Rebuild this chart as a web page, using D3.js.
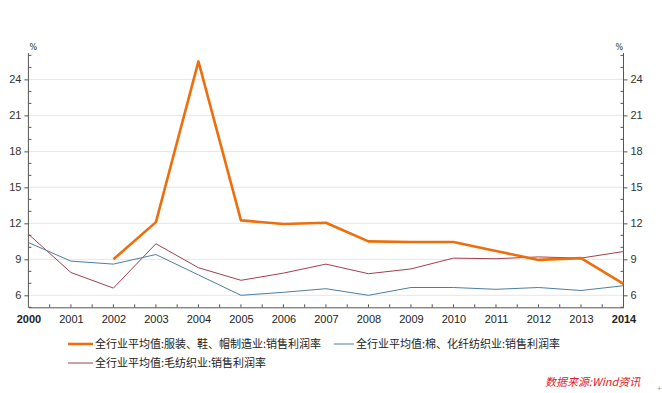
<!DOCTYPE html>
<html>
<head>
<meta charset="utf-8">
<script src="https://cdn.jsdelivr.net/npm/d3@7"></script>
<style>
  body { margin: 0; background: #fff; }
  svg { display: block; font-family: "Noto Sans CJK SC", "DejaVu Sans", sans-serif; }
</style>
</head>
<body>
<div id="chart"></div>
<script>
// years on the x axis
const years = d3.range(2000, 2015);

// 全行业平均值:服装、鞋、帽制造业:销售利润率 (starts 2002)
const apparel = [null, null, 9.0, 12.1, 25.5, 12.25, 11.95, 12.05, 10.5, 10.45, 10.45, 9.7, 8.95, 9.1, 6.95];
// 全行业平均值:棉、化纤纺织业:销售利润率
const cotton = [10.4, 8.85, 8.6, 9.4, 7.7, 6.0, 6.25, 6.55, 6.0, 6.65, 6.65, 6.5, 6.65, 6.4, 6.8];
// 全行业平均值:毛纺织业:销售利润率
const wool = [11.1, 7.9, 6.6, 10.3, 8.3, 7.25, 7.85, 8.6, 7.8, 8.2, 9.1, 9.05, 9.2, 9.1, 9.65];

const seriesNames = [
  "全行业平均值:服装、鞋、帽制造业:销售利润率",
  "全行业平均值:棉、化纤纺织业:销售利润率",
  "全行业平均值:毛纺织业:销售利润率"
];
const yTicks = [6, 9, 12, 15, 18, 21, 24];

const width = 662, height = 393;
const plotLeft = 28.4, plotRight = 623.5, plotTop = 53, plotBottom = 307.3;

const svg = d3.select("#chart").append("svg")
  .attr("width", width)
  .attr("height", height);

const x = d3.scaleLinear().domain([2000, 2014]).range([plotLeft, plotRight]);
const y = d3.scaleLinear().domain([5, 26.2]).range([plotBottom, plotTop]);

// grid
svg.append("g").selectAll("line")
  .data(yTicks)
  .enter().append("line")
  .attr("x1", plotLeft).attr("x2", plotRight)
  .attr("y1", d => y(d)).attr("y2", d => y(d))
  .style("stroke", "#e6e6e6")
  .style("stroke-width", 1);

const axisColor = "#555";
const minorY = d3.range(5, 27).filter(d => !yTicks.includes(d));

// left axis
const yLeft = svg.append("g").attr("transform", `translate(${plotLeft},0)`)
  .call(d3.axisLeft(y).tickValues(yTicks).tickSize(4).tickPadding(3).tickFormat(d3.format("d")));
yLeft.append("g").selectAll("line")
  .data(minorY)
  .enter().append("line")
  .attr("x1", 0).attr("x2", 3)
  .attr("y1", d => y(d)).attr("y2", d => y(d));

// right axis
const yRight = svg.append("g").attr("transform", `translate(${plotRight},0)`)
  .call(d3.axisRight(y).tickValues(yTicks).tickSize(4).tickPadding(3).tickFormat(d3.format("d")));
yRight.append("g").selectAll("line")
  .data(minorY)
  .enter().append("line")
  .attr("x1", 0).attr("x2", -3)
  .attr("y1", d => y(d)).attr("y2", d => y(d));

[yLeft, yRight].forEach(g => {
  g.select(".domain").attr("d", `M0,${y(26.2)}V${plotBottom}`).style("stroke", axisColor);
  g.selectAll("line").style("stroke", axisColor);
  g.selectAll("text").style("font-size", "11px").style("fill", "#333")
    .style("font-family", "'Liberation Sans', 'DejaVu Sans', sans-serif");
});

// x axis
const xAxis = svg.append("g").attr("transform", `translate(0,${plotBottom})`)
  .call(d3.axisBottom(x).tickValues(years).tickSize(0).tickPadding(8).tickFormat(d3.format("d")));
xAxis.select(".domain").style("stroke", axisColor);
xAxis.selectAll("text")
  .style("font-size", "11px")
  .style("fill", "#222")
  .style("font-family", "'Liberation Sans', 'DejaVu Sans', sans-serif")
  .style("font-weight", d => (d === 2000 || d === 2014) ? "bold" : "normal");
xAxis.append("g").selectAll("line")
  .data(d3.range(2000.5, 2014, 0.5))
  .enter().append("line")
  .attr("x1", d => x(d)).attr("x2", d => x(d))
  .attr("y1", 0).attr("y2", -3)
  .style("stroke", axisColor);

// % unit labels
svg.append("text").attr("x", plotLeft + 1).attr("y", 50).text("%")
  .style("font-size", "8px").style("fill", "#333").style("font-family", "'DejaVu Sans', sans-serif");
svg.append("text").attr("x", plotRight - 8).attr("y", 50).text("%")
  .style("font-size", "8px").style("fill", "#333").style("font-family", "'DejaVu Sans', sans-serif");

// lines
const colors = ["#ee6e0c", "#4d7ea2", "#a0404f"];
const widths = [2.6, 1, 1];
const data = [apparel, cotton, wool];
const line = d3.line()
  .defined(d => d != null)
  .x((d, i) => x(years[i]))
  .y(d => y(d));

[2, 1, 0].forEach(k => {
  svg.append("path")
    .datum(data[k])
    .attr("d", line)
    .style("fill", "none")
    .style("stroke", colors[k])
    .style("stroke-width", widths[k])
    .style("stroke-linejoin", "round");
});

// legend
const legendItems = [
  { i: 0, lx: 68, ly: 344, tx: 95 },
  { i: 1, lx: 334, ly: 344, tx: 356 },
  { i: 2, lx: 68, ly: 363, tx: 95 }
];
const legend = svg.append("g");
legend.selectAll("line")
  .data(legendItems)
  .enter().append("line")
  .attr("x1", d => d.lx).attr("x2", d => d.tx - 2)
  .attr("y1", d => d.ly).attr("y2", d => d.ly)
  .style("stroke", d => colors[d.i])
  .style("stroke-width", d => d.i === 0 ? 2.6 : 1);
legend.selectAll("text")
  .data(legendItems)
  .enter().append("text")
  .attr("x", d => d.tx).attr("y", d => d.ly + 4)
  .text(d => seriesNames[d.i])
  .style("font-size", "11px")
  .style("fill", "#222");

// source
svg.append("text")
  .attr("x", 545).attr("y", 386)
  .text("数据来源:Wind资讯")
  .style("font-size", "11px")
  .style("font-style", "italic")
  .style("fill", "#e0202c");
svg.append("text")
  .attr("x", 657).attr("y", 391)
  .text("+")
  .style("font-size", "8px")
  .style("fill", "#999");
</script>
</body>
</html>
